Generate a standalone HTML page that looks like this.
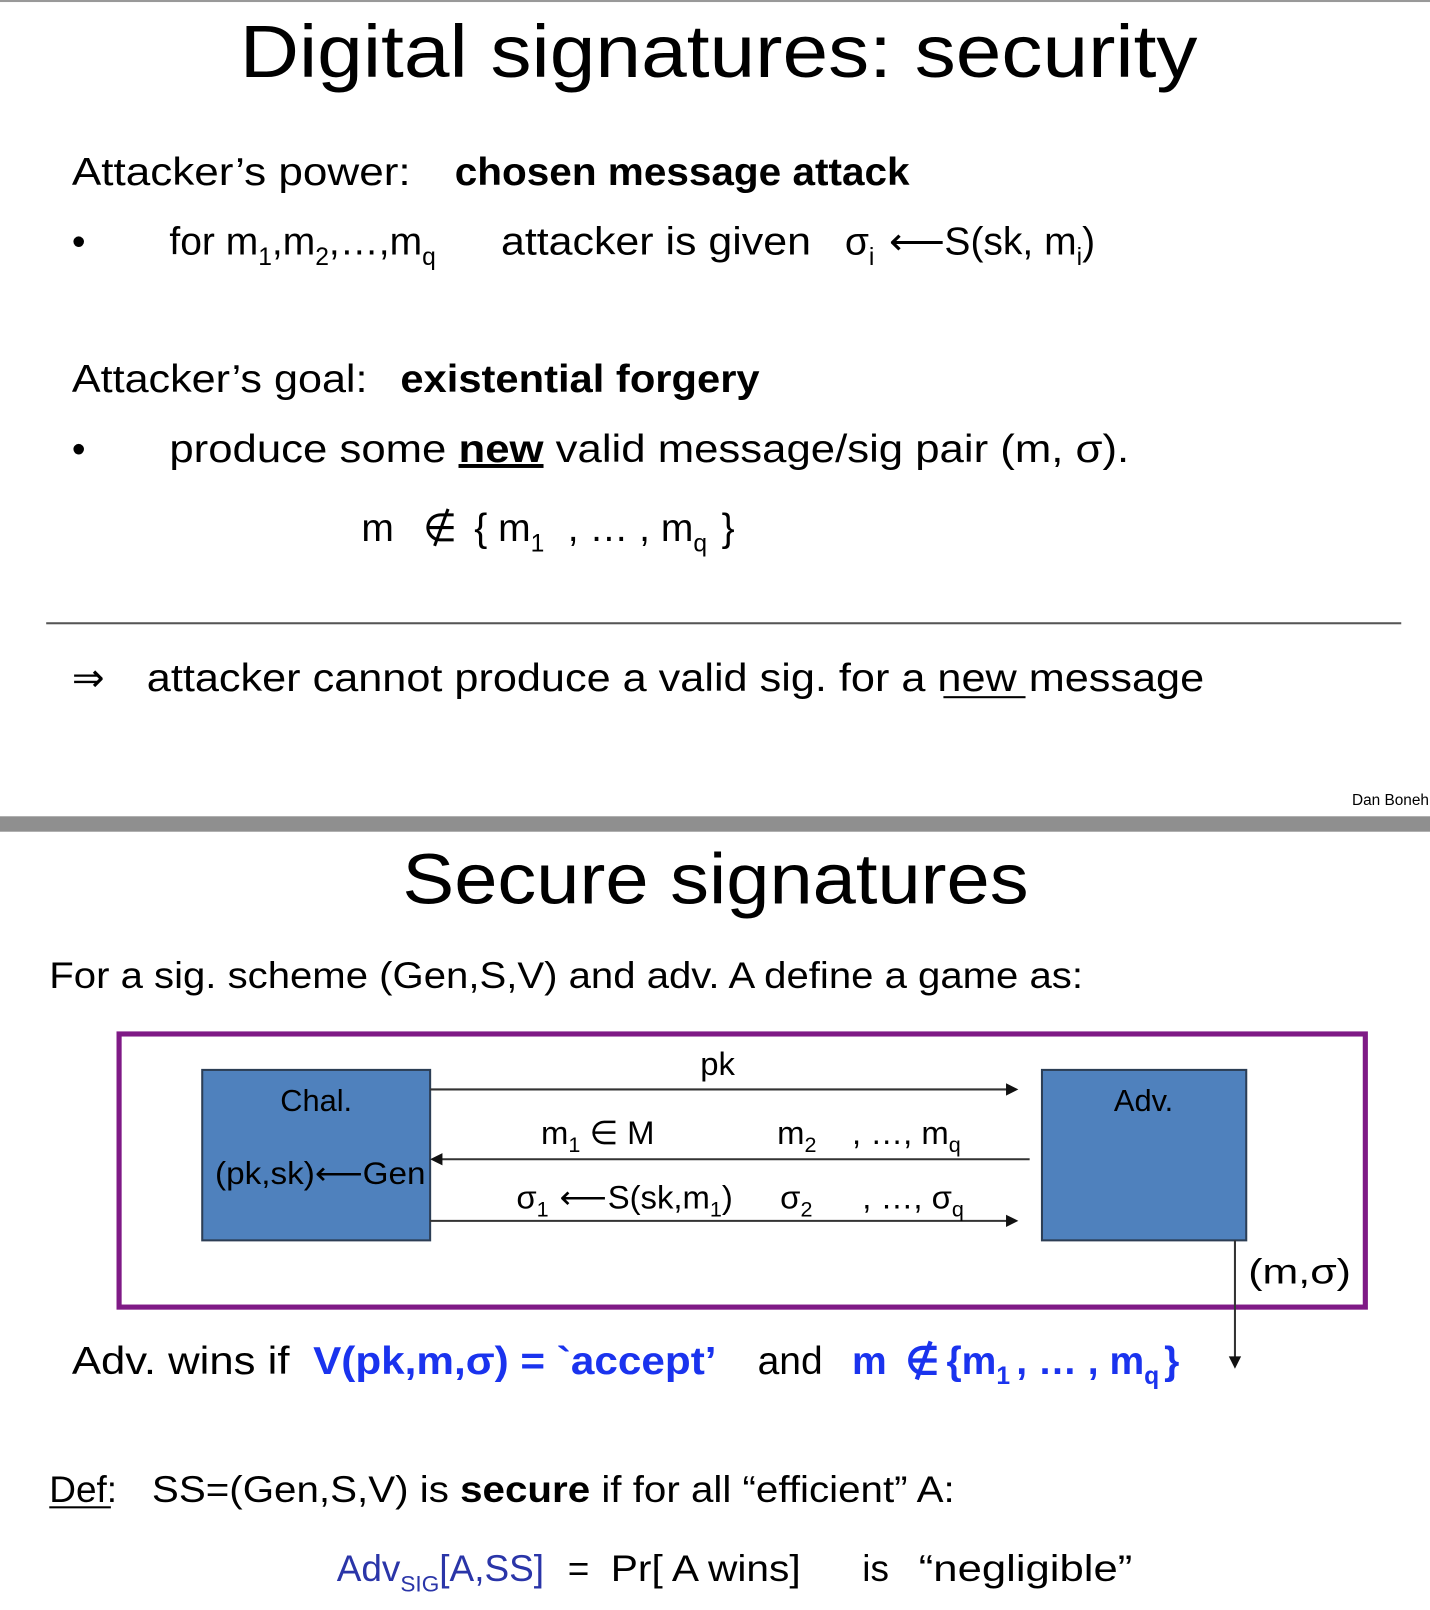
<!DOCTYPE html>
<html><head><meta charset="utf-8"><style>
html,body{margin:0;padding:0;background:#fff;}
svg{display:block;}
text{font-family:"Liberation Sans",sans-serif;fill:#000;}
.b{font-weight:bold;}
.blue{fill:#1a33ee;}
</style></head><body>
<svg width="1430" height="1610" viewBox="0 0 1393 1568" preserveAspectRatio="none">
<rect x="0" y="0" width="1393" height="2" fill="#999"/>
<text x="700" y="75" font-size="72" text-anchor="middle" textLength="933" lengthAdjust="spacingAndGlyphs">Digital signatures:  security</text>

<text x="70" y="180" font-size="38"><tspan textLength="330" lengthAdjust="spacingAndGlyphs">Attacker’s power:</tspan><tspan x="443" class="b" textLength="443" lengthAdjust="spacingAndGlyphs">chosen message attack</tspan></text>
<text x="70" y="248" font-size="38">•</text>
<text x="165" y="248" font-size="38">for m<tspan font-size="24" dy="10">1</tspan><tspan dy="-10">,m</tspan><tspan font-size="24" dy="10">2</tspan><tspan dy="-10">,…,m</tspan><tspan font-size="24" dy="10">q</tspan><tspan dy="-10" x="488" textLength="302" lengthAdjust="spacingAndGlyphs">attacker is given</tspan><tspan x="823">σ</tspan><tspan font-size="24" dy="10">i</tspan><tspan dy="-10" x="866">⟵</tspan><tspan x="920">S(sk, m</tspan><tspan font-size="24" dy="10">i</tspan><tspan dy="-10">)</tspan></text>

<text x="70" y="382" font-size="38"><tspan textLength="288" lengthAdjust="spacingAndGlyphs">Attacker’s goal:</tspan><tspan x="390" class="b" textLength="350" lengthAdjust="spacingAndGlyphs">existential forgery</tspan></text>
<text x="70" y="450" font-size="38">•</text>
<text x="165" y="450" font-size="38" textLength="935" lengthAdjust="spacingAndGlyphs">produce some <tspan class="b" text-decoration="underline">new</tspan> valid message/sig pair  (m, σ).</text>
<rect x="447" y="452" width="82" height="3" fill="#000"/>
<text x="352" y="527" font-size="38">m<tspan x="412">∉</tspan><tspan x="462">{ m</tspan><tspan font-size="24" dy="10">1</tspan><tspan dy="-10" x="553">, … , m</tspan><tspan font-size="24" dy="10">q</tspan><tspan dy="-10" x="703">}</tspan></text>

<rect x="45" y="606" width="1320" height="2" fill="#555"/>
<text x="70" y="673" font-size="38">⇒</text>
<text x="143" y="673" font-size="38" textLength="1030" lengthAdjust="spacingAndGlyphs">attacker cannot produce a valid sig. for a new message</text>
<rect x="919" y="678" width="80" height="2" fill="#000"/>
<text x="1392" y="784" font-size="15" text-anchor="end">Dan Boneh</text>

<rect x="0" y="795" width="1393" height="15" fill="#8f8f8f"/>

<text x="697" y="880" font-size="70" text-anchor="middle" textLength="610" lengthAdjust="spacingAndGlyphs">Secure signatures</text>
<text x="48" y="962" font-size="36" textLength="1007" lengthAdjust="spacingAndGlyphs">For a sig. scheme  (Gen,S,V)  and adv.  A  define a game as:</text>

<rect x="116" y="1007" width="1214" height="266" fill="none" stroke="#7f1a86" stroke-width="5"/>
<rect x="197" y="1042" width="222" height="166" fill="#4f81bd" stroke="#2c3e55" stroke-width="2"/>
<text x="308" y="1082" font-size="30" text-anchor="middle">Chal.</text>
<text x="312" y="1153" font-size="31" text-anchor="middle" textLength="205" lengthAdjust="spacingAndGlyphs">(pk,sk)⟵Gen</text>
<rect x="1015" y="1042" width="199" height="166" fill="#4f81bd" stroke="#2c3e55" stroke-width="2"/>
<text x="1114" y="1082" font-size="30" text-anchor="middle">Adv.</text>

<g stroke="#333" stroke-width="2" fill="none">
<line x1="419" y1="1061" x2="984" y2="1061"/>
<line x1="1003" y1="1129" x2="428" y2="1129"/>
<line x1="419" y1="1189" x2="984" y2="1189"/>
<line x1="1203" y1="1208" x2="1203" y2="1324"/>
</g>
<polygon points="992,1061 980,1055 980,1067" fill="#111"/>
<polygon points="419,1129 431,1123 431,1135" fill="#111"/>
<polygon points="992,1189 980,1183 980,1195" fill="#111"/>
<polygon points="1203,1333 1197,1321 1209,1321" fill="#111"/>

<text x="699" y="1047" font-size="32" text-anchor="middle">pk</text>
<text x="527" y="1114" font-size="32">m<tspan font-size="21" dy="8">1</tspan><tspan dy="-8"> ∈ M</tspan></text>
<text x="757" y="1114" font-size="32">m<tspan font-size="21" dy="8">2</tspan><tspan dy="-8" x="830">, …, m</tspan><tspan font-size="21" dy="8">q</tspan></text>
<text x="503" y="1177" font-size="32">σ<tspan font-size="21" dy="8">1</tspan><tspan dy="-8" x="545">⟵</tspan><tspan x="592">S(sk,m</tspan><tspan font-size="21" dy="8">1</tspan><tspan dy="-8">)</tspan></text>
<text x="760" y="1177" font-size="32">σ<tspan font-size="21" dy="8">2</tspan><tspan dy="-8" x="840">, …, σ</tspan><tspan font-size="21" dy="8">q</tspan></text>
<text x="1216" y="1250" font-size="34" textLength="100" lengthAdjust="spacingAndGlyphs">(m,σ)</text>

<text x="70" y="1338" font-size="38"><tspan textLength="212" lengthAdjust="spacingAndGlyphs">Adv. wins if</tspan><tspan x="305" class="b blue" textLength="393" lengthAdjust="spacingAndGlyphs">V(pk,m,σ) = `accept’</tspan><tspan x="738">and</tspan><tspan x="830" class="b blue">m</tspan><tspan x="882" class="b blue">∉</tspan><tspan x="922" class="b blue">{m</tspan><tspan class="b blue" font-size="24" dy="10">1</tspan><tspan class="b blue" dy="-10" x="990">, … , m</tspan><tspan class="b blue" font-size="24" dy="10">q</tspan><tspan class="b blue" dy="-10" x="1134">}</tspan></text>

<text x="48" y="1463" font-size="36"><tspan>Def</tspan><tspan>:</tspan><tspan x="148" textLength="782" lengthAdjust="spacingAndGlyphs">SS=(Gen,S,V)  is <tspan class="b">secure</tspan> if for all  “efficient”  A:</tspan></text>
<rect x="48" y="1467" width="60" height="2" fill="#000"/>
<text x="328" y="1540" font-size="36"><tspan fill="#2a35a8">Adv</tspan><tspan fill="#2a35a8" font-size="22" dy="10">SIG</tspan><tspan fill="#2a35a8" dy="-10">[A,SS]</tspan><tspan x="553">=</tspan><tspan x="595" textLength="185" lengthAdjust="spacingAndGlyphs">Pr[ A wins]</tspan><tspan x="840">is</tspan><tspan x="895" textLength="208" lengthAdjust="spacingAndGlyphs">“negligible”</tspan></text>
</svg>
</body></html>
